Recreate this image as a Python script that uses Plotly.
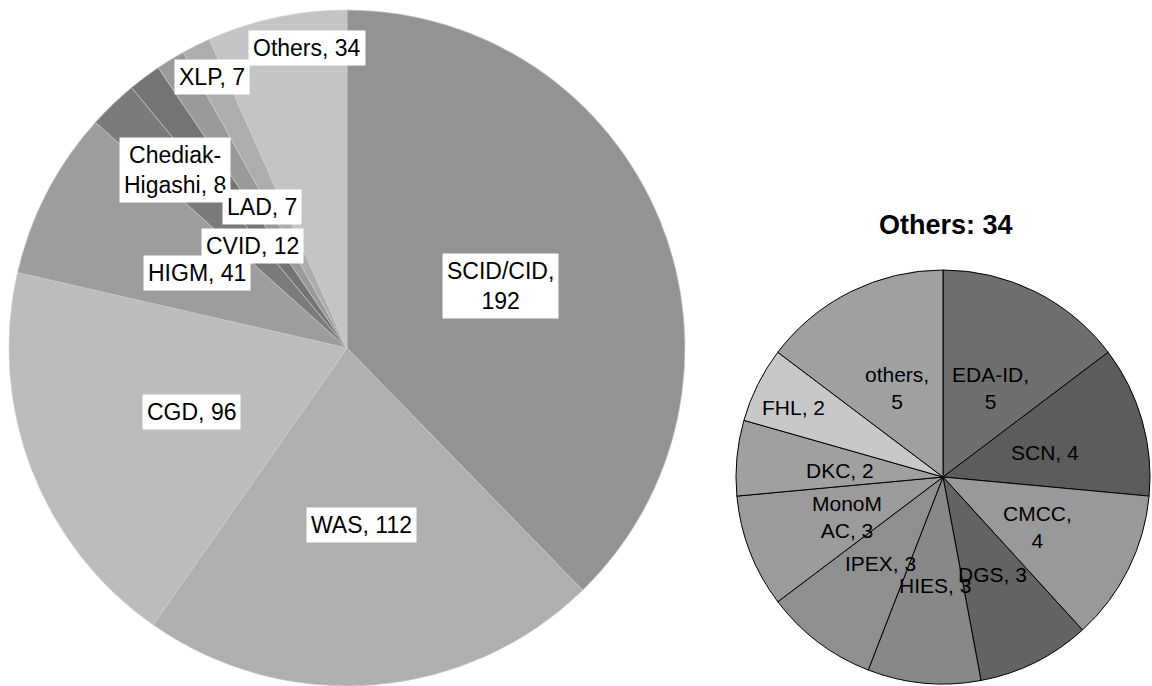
import plotly.graph_objects as go

W, H = 1152, 686

# ---- main pie data ----
main_labels = ["SCID/CID", "WAS", "CGD", "HIGM", "CVID", "Chediak-Higashi", "LAD", "XLP", "Others"]
main_values = [192, 112, 96, 41, 12, 8, 7, 7, 34]
main_colors = ["#939393", "#afafaf", "#bcbcbc", "#9d9d9d", "#7b7b7b", "#747474", "#9a9a9a", "#adadad", "#c4c4c4"]
main_text = ["SCID/CID,<br>192", "WAS, 112", "CGD, 96", "HIGM, 41", "CVID, 12",
             "Chediak-<br>Higashi, 8", "LAD, 7", "XLP, 7", "Others, 34"]
# label centres in pixels (manually placed labels in the original)
main_text_pos = [(500, 286), (361, 525), (191, 412), (197, 273), (252, 246),
                 (175, 170), (262, 207), (212, 77), (307, 48)]

# ---- "Others" breakdown pie ----
sub_title = "Others: 34"
sub_labels = ["EDA-ID", "SCN", "CMCC", "DGS", "HIES", "IPEX", "MonoMAC", "DKC", "FHL", "others"]
sub_values = [5, 4, 4, 3, 3, 3, 3, 2, 2, 5]
sub_colors = ["#6f6f6f", "#5c5c5c", "#999999", "#636363", "#888888", "#8f8f8f", "#9b9b9b", "#a0a0a0", "#c8c8c8", "#a0a0a0"]
sub_text = ["EDA-ID,<br>5", "SCN, 4", "CMCC,<br>4", "DGS, 3", "HIES, 3", "IPEX, 3",
            "MonoM<br>AC, 3", "DKC, 2", "FHL, 2", "others,<br>5"]
sub_text_pos = [(990, 388), (1045, 452), (1037, 527), (992, 574), (935, 585), (880, 563),
                (847, 517), (840, 470), (793, 407), (897, 388)]


def px(x):
    return x / W


def py(y):
    return 1 - y / H


fig = go.Figure()
fig.add_trace(go.Pie(
    labels=main_labels, values=main_values, sort=False, direction="clockwise", rotation=0,
    marker=dict(colors=main_colors, line=dict(color="#cfcfcf", width=0.6)),
    textinfo="none", hoverinfo="label+value", showlegend=False,
    domain=dict(x=[px(9), px(685)], y=[py(686), py(10)]),
))
fig.add_trace(go.Pie(
    labels=sub_labels, values=sub_values, sort=False, direction="clockwise", rotation=0,
    marker=dict(colors=sub_colors, line=dict(color="#000000", width=1)),
    textinfo="none", hoverinfo="label+value", showlegend=False,
    domain=dict(x=[px(736), px(1150)], y=[py(684), py(270)]),
))

annotations = []
for t, (x, y) in zip(main_text, main_text_pos):
    annotations.append(dict(
        text=t, x=px(x), y=py(y), xref="paper", yref="paper", showarrow=False,
        xanchor="center", yanchor="middle", bgcolor="#ffffff", borderpad=4,
        font=dict(family="Liberation Sans, Arial", size=23, color="#000000"),
    ))
for t, (x, y) in zip(sub_text, sub_text_pos):
    annotations.append(dict(
        text=t, x=px(x), y=py(y), xref="paper", yref="paper", showarrow=False,
        xanchor="center", yanchor="middle",
        font=dict(family="Liberation Sans, Arial", size=21, color="#000000"),
    ))
annotations.append(dict(
    text="<b>" + sub_title + "</b>", x=px(946), y=py(225), xref="paper", yref="paper",
    showarrow=False, xanchor="center", yanchor="middle",
    font=dict(family="Liberation Sans, Arial", size=27, color="#000000"),
))

fig.update_layout(
    width=W, height=H, margin=dict(l=0, r=0, t=0, b=0),
    paper_bgcolor="#ffffff", plot_bgcolor="#ffffff",
    annotations=annotations,
)

fig.write_html("out.html")
